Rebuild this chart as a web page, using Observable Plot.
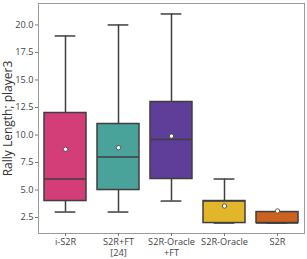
<!DOCTYPE html>
<html>
<head>
<meta charset="utf-8">
<script src="https://cdn.jsdelivr.net/npm/d3@7"></script>
<script src="https://cdn.jsdelivr.net/npm/@observablehq/plot@0.6"></script>
<style>
  html, body { margin: 0; padding: 0; background: #fff; }
  svg { display: block; }
</style>
</head>
<body>
<div id="chart"></div>
<script>
const categories = ["i-S2R", "S2R+FT\n[24]", "S2R-Oracle\n+FT", "S2R-Oracle", "S2R"];
const whiskerLow = [3, 3, 4, 2, 2];
const q1 = [4, 5, 6, 2, 2];
const median = [6, 8, 9.6, 4, 2];
const q3 = [12, 11, 13, 4, 3];
const whiskerHigh = [19, 20, 21, 6, 3];
const means = [8.7, 8.85, 9.9, 3.55, 3.1];
const colors = ["#d33d78", "#4aa39a", "#5e3e98", "#e2b52b", "#cc6120"];
const yTicks = [2.5, 5.0, 7.5, 10.0, 12.5, 15.0, 17.5, 20.0];
const yLabel = "Rally Length; player3";

const rows = categories.map((c, i) => ({
  cat: c, lo: whiskerLow[i], q1: q1[i], med: median[i], q3: q3[i], hi: whiskerHigh[i], mean: means[i], color: colors[i]
}));

const W = 307, H = 259;
const mL = 38, mR = 3, mT = 3, mB = 26;
const step = (W - mL - mR) / categories.length;
const capInset = step * 0.8 / 4;
const edge = "#3f3f3f";

const chart = Plot.plot({
  width: W,
  height: H,
  marginLeft: mL,
  marginRight: mR,
  marginTop: mT,
  marginBottom: mB,
  style: { fontFamily: "'Open Sans', sans-serif", background: "#fff", overflow: "visible" },
  x: { domain: categories, paddingInner: 0.2, paddingOuter: 0.1, label: null },
  y: { domain: [1.05, 21.95], label: null },
  color: { type: "identity" },
  marks: [
    Plot.frame({ stroke: "#9a9a9a", strokeWidth: 1 }),
    // whiskers
    Plot.ruleX(rows, { x: "cat", y1: "lo", y2: "q1", stroke: edge, strokeWidth: 1.5 }),
    Plot.ruleX(rows, { x: "cat", y1: "q3", y2: "hi", stroke: edge, strokeWidth: 1.5 }),
    Plot.tickY(rows, { x: "cat", y: "lo", stroke: edge, strokeWidth: 1.5, insetLeft: capInset, insetRight: capInset }),
    Plot.tickY(rows, { x: "cat", y: "hi", stroke: edge, strokeWidth: 1.5, insetLeft: capInset, insetRight: capInset }),
    // boxes
    Plot.barY(rows, { x: "cat", y1: "q1", y2: "q3", fill: "color", stroke: edge, strokeWidth: 1.5 }),
    Plot.tickY(rows, { x: "cat", y: "med", stroke: edge, strokeWidth: 1.5 }),
    // means
    Plot.dot(rows, { x: "cat", y: "mean", r: 2.2, fill: "#ffffff", stroke: edge, strokeWidth: 0.8 }),
    Plot.axisY({ ticks: yTicks, tickFormat: d3.format(".1f"), tickSize: 3, tickPadding: 2, stroke: "#777", fill: "#444", fontSize: 9.2,
      label: yLabel, labelAnchor: "center", labelOffset: 35, labelArrow: "none" }),
    Plot.axisX({ tickSize: 3, tickPadding: 0, stroke: "#777", fill: "#444", fontSize: 9.2, label: null, lineHeight: 1.25 })
  ]
});

// style the y label
chart.querySelectorAll("text").forEach(t => {
  if (t.textContent.includes("Rally")) {
    t.setAttribute("font-size", "12");
    t.style.fontSize = "12px";
    t.setAttribute("fill", "#333");
  }
});

document.getElementById("chart").appendChild(chart);
</script>
</body>
</html>
